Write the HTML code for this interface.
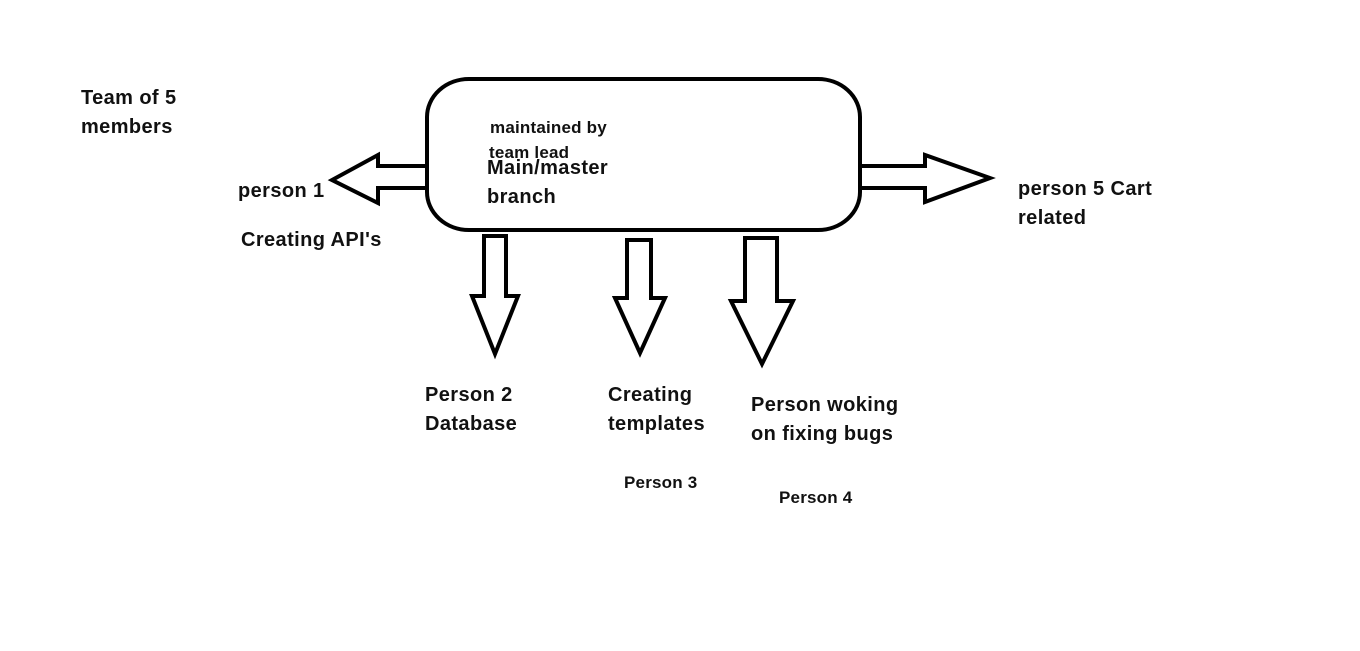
<!DOCTYPE html>
<html><head><style>
body{margin:0;width:1360px;height:651px;background:#fff;position:relative;overflow:hidden;font-family:"Liberation Sans",sans-serif;font-weight:bold;color:#111}
.t{position:absolute;font-size:20px;letter-spacing:0.4px;line-height:29px;white-space:nowrap}
.s{position:absolute;font-size:17px;letter-spacing:0.2px;line-height:26px;white-space:nowrap}
</style></head><body>
<svg width="1360" height="651" style="position:absolute;left:0;top:0" fill="#fff" stroke="#000" stroke-width="4" stroke-linejoin="miter">
<rect x="427" y="79" width="433" height="151" rx="42" ry="38"/>
<polygon points="427,166 378,166 378,155 332,180 378,203 378,188 427,188"/>
<polygon points="860,166 925,166 925,155 990,178 925,202 925,188 860,188"/>
<polygon points="484,236 506,236 506,296 518,296 495,354 472,296 484,296"/>
<polygon points="627,240 651,240 651,298 665,298 640,353 615,298 627,298"/>
<polygon points="745,238 777,238 777,301 793,301 762,364 731,301 745,301"/>
</svg>
<div class="t" style="left:81px;top:84px">Team of 5<br>members</div>
<div class="t" style="left:238px;top:177px">person 1</div>
<div class="t" style="left:241px;top:226px">Creating API's</div>
<div class="s" style="left:490px;top:115px">maintained by</div>
<div class="s" style="left:489px;top:140px">team lead</div>
<div class="t" style="left:487px;top:154px">Main/master</div>
<div class="t" style="left:487px;top:183px">branch</div>
<div class="t" style="left:1018px;top:175px">person 5 Cart<br>related</div>
<div class="t" style="left:425px;top:381px">Person 2<br>Database</div>
<div class="t" style="left:608px;top:381px">Creating<br>templates</div>
<div class="t" style="left:751px;top:391px">Person woking<br>on fixing bugs</div>
<div class="s" style="left:624px;top:470px">Person 3</div>
<div class="s" style="left:779px;top:485px">Person 4</div>
</body></html>
